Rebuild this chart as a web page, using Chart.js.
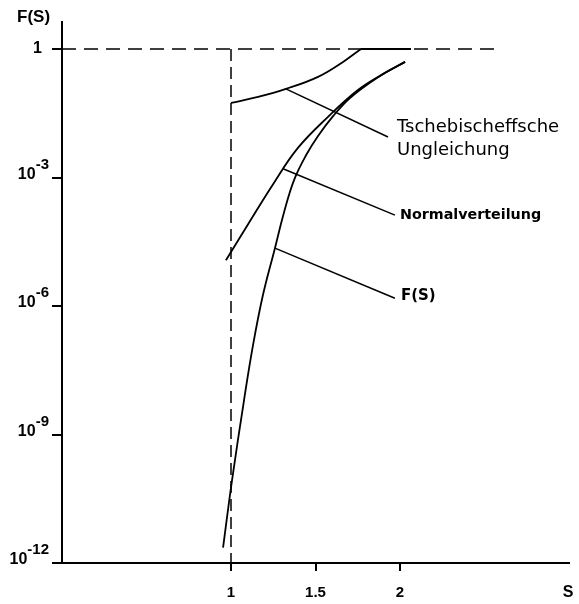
<!DOCTYPE html>
<html>
<head>
<meta charset="utf-8">
<script src="https://cdn.jsdelivr.net/npm/chart.js@4/dist/chart.umd.min.js"></script>
<style>
  html, body { margin: 0; padding: 0; background: #fff; }
  #wrap { width: 579px; height: 604px; }
</style>
</head>
<body>
<div id="wrap"><canvas id="c" width="579" height="604"></canvas></div>
<script>
// Curve values: S on the horizontal axis, F(S) on the logarithmic axis
const sNormal = [0.97, 1.101, 1.249, 1.396, 1.574, 1.751, 1.899, 2.03];
const fNormal = [1.17e-5, 8.1e-5, 7.0e-4, 4.9e-3, 0.026, 0.11, 0.26, 0.50];

const sF = [0.953, 1.006, 1.077, 1.13, 1.189, 1.26, 1.314, 1.373, 1.444, 1.515, 1.604, 1.704, 1.87, 2.03];
const fF = [2.3e-12, 8.5e-11, 6.3e-9, 1.2e-7, 1.8e-6, 2.24e-5, 1.55e-4, 8.7e-4, 3.3e-3, 9.3e-3, 0.027, 0.072, 0.22, 0.50];

const sTscheb = [1.0, 1.16, 1.325, 1.515, 1.663, 1.769];
const fTscheb = [0.055, 0.076, 0.117, 0.224, 0.50, 1.0];
const sTschebFlat = [1.769, 2.065];
const fTschebFlat = [1.0, 1.0];

// Reference lines: F = 1 and S = 1
const sLimitH = [0, 2.6];
const fLimitH = [1, 1];
const sLimitV = [1, 1];
const fLimitV = [1, 1e-12];

// Leader lines from each curve to its label
const leaderTscheb = { s: [1.325, 1.929], f: [0.117, 8.8e-3] };
const leaderNormal = { s: [1.308, 1.97], f: [1.6e-3, 1.32e-4] };
const leaderF      = { s: [1.26, 1.97],  f: [2.24e-5, 1.52e-6] };

const labelTscheb = ['Tschebischeffsche', 'Ungleichung'];
const labelNormal = ['Normalverteilung'];
const labelF = ['F(S)'];

// Axis ticks
const yTicks = [1e-12, 1e-9, 1e-6, 1e-3, 1];
const yTickBase = ['10', '10', '10', '10', '1'];
const yTickExp  = ['-12', '-9', '-6', '-3', ''];
const xTicks = [1, 1.5, 2];
const xTickLabels = ['1', '1.5', '2'];

const pts = (s, f) => s.map((v, i) => ({ x: v, y: f[i] }));

const curve = (data) => ({
  data, borderColor: '#000', borderWidth: 1.8, pointRadius: 0,
  tension: 0.4, fill: false
});
const straight = (data, dash, w) => ({
  data, borderColor: '#000', borderWidth: w || 1.5, pointRadius: 0,
  tension: 0, fill: false, borderDash: dash || []
});

const boldSans = (px) => `bold ${px}px "Liberation Sans", Arial, sans-serif`;

// Text: curve labels, tick labels with exponents, axis names
const textPlugin = {
  id: 'texts',
  afterDraw(chart) {
    const { ctx, scales: { x, y } } = chart;
    ctx.save();
    ctx.fillStyle = '#000';
    ctx.textBaseline = 'middle';
    ctx.textAlign = 'left';

    // curve labels, placed next to the end of their leader lines
    const put = (lines, leader, dx, dy, lh, font) => {
      const px = x.getPixelForValue(leader.s[1]) + dx;
      const py = y.getPixelForValue(leader.f[1]) + dy;
      ctx.font = font;
      lines.forEach((t, i) => ctx.fillText(t, px, py + i * lh));
    };
    put(labelTscheb, leaderTscheb, 9, -10, 23, '18px "DejaVu Sans", sans-serif');
    put(labelNormal, leaderNormal, 5, 0, 0, 'bold 14.3px "DejaVu Sans", sans-serif');
    put(labelF, leaderF, 6, -2, 0, 'bold 15px "DejaVu Sans", sans-serif');

    // y tick labels: 10 with raised exponent
    yTicks.forEach((v, i) => {
      const py = y.getPixelForValue(v);
      const base = yTickBase[i], exp = yTickExp[i];
      ctx.font = boldSans(16);
      const wb = ctx.measureText(base).width;
      ctx.font = boldSans(15);
      const we = exp ? ctx.measureText(exp).width : 0;
      const right = exp ? 49 : 42;
      const left = right - we - wb;
      ctx.font = boldSans(16);
      ctx.fillText(base, left, py - (exp ? 3 : 0));
      if (exp) {
        ctx.font = boldSans(15);
        ctx.fillText(exp, left + wb, py - 13);
      }
    });

    // x tick labels
    ctx.textAlign = 'center';
    ctx.font = boldSans(15);
    xTicks.forEach((v, i) => {
      ctx.fillText(xTickLabels[i], x.getPixelForValue(v), 593);
    });

    // axis names
    ctx.font = boldSans(16);
    ctx.fillText('S', 568, 593);
    ctx.textAlign = 'left';
    ctx.font = boldSans(17);
    ctx.fillText('F(S)', 17, 17);
    ctx.restore();
  }
};

new Chart(document.getElementById('c'), {
  type: 'line',
  data: {
    datasets: [
      straight(pts(sLimitH, fLimitH), [14, 8]),
      straight(pts(sLimitV, fLimitV), [12, 6]),
      curve(pts(sTscheb, fTscheb)),
      straight(pts(sTschebFlat, fTschebFlat), [], 1.8),
      curve(pts(sNormal, fNormal)),
      curve(pts(sF, fF)),
      straight(pts(leaderTscheb.s, leaderTscheb.f)),
      straight(pts(leaderNormal.s, leaderNormal.f)),
      straight(pts(leaderF.s, leaderF.f))
    ]
  },
  options: {
    responsive: false,
    devicePixelRatio: 1,
    animation: false,
    events: [],
    layout: { padding: { left: 52, top: 22, right: 10, bottom: 31 } },
    plugins: { legend: { display: false }, tooltip: { enabled: false } },
    scales: {
      x: {
        type: 'linear', min: 0, max: 3,
        afterBuildTicks: (s) => { s.ticks = xTicks.map(v => ({ value: v })); },
        afterFit: (s) => { s.height = 10; },
        border: { display: true, color: '#000', width: 2 },
        grid: { display: true, drawOnChartArea: false, drawTicks: true, tickLength: 8, color: '#000', lineWidth: 2 },
        ticks: { display: false }
      },
      y: {
        type: 'logarithmic', min: 1e-12, max: 4.27,
        afterBuildTicks: (s) => { s.ticks = yTicks.map(v => ({ value: v })); },
        afterFit: (s) => { s.width = 10; },
        border: { display: true, color: '#000', width: 2 },
        grid: { display: true, drawOnChartArea: false, drawTicks: true, tickLength: 10, color: '#000', lineWidth: 2 },
        ticks: { display: false }
      }
    }
  },
  plugins: [textPlugin]
});
</script>
</body>
</html>
